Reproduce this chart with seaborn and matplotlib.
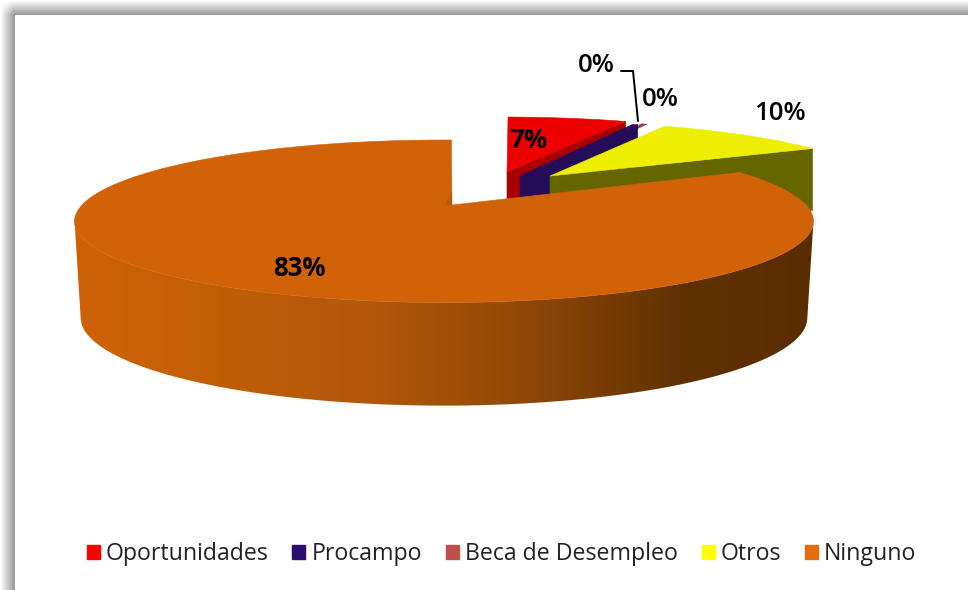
import matplotlib
matplotlib.use('Agg')
import matplotlib.pyplot as plt
from matplotlib.colors import LinearSegmentedColormap
from matplotlib.patches import Patch, Polygon
import numpy as np
import seaborn as sns

# Chart data
categories = ['Oportunidades', 'Procampo', 'Beca de Desempleo', 'Otros', 'Ninguno']
percent = [6.6, 0.3, 0.3, 9.9, 82.9]
legend_colors = ['#FF0000', '#2A0F6E', '#C0504D', '#FFFF00', '#E46C0A']
top_colors = ['#EE0000', '#240C58', '#96404C', '#EEEE00', '#D26208']
wall_colors = ['#A80000', '#240C58', '#6A3048', '#666600', '#D26208']

# Pie geometry in pixels: rim centre, apex, half axes of the rim
rim_x = [501, 508, 512, 530, 444]
rim_y = [172, 175, 174, 176, 205]
apex_x = [507, 520, 538, 550, 452]
apex_y = [172, 176, 176, 176, 205]
half_w = [346, 346, 346, 346, 362]
half_h = [66, 66, 66, 66, 78]
start_angle = 1.4
depth = 62
perspective = 0.2

label_x = [528, 660, 596, 780, 299]
label_y = [141, 99, 66, 113, 269]

sns.set_theme(style='white')
plt.rcParams['font.family'] = ['Open Sans', 'DejaVu Sans']

fig = plt.figure(figsize=(9.68, 5.9), dpi=100)
ax = fig.add_axes([0, 0, 1, 1])
ax.axis('off')


def rim_points(i, t0, t1, cy=None, hw=None, hh=None):
    # Walk the rim of slice i between two clockwise angles, far side gets smaller
    t = np.radians(np.linspace(t0, t1, 200))
    u, v = np.sin(t), np.cos(t)
    w = 1 + perspective * v
    x = rim_x[i] + (hw or half_w[i]) * u / w
    y = (cy or rim_y[i]) - (hh or half_h[i]) * v / w
    return np.column_stack([x, y])


# Grey shadow of the picture frame along the top and left edge
xx, yy = np.meshgrid(np.arange(968), np.arange(590))
frame = 1 - 0.4 * np.clip(xx / 14, 0, 1) * np.clip(yy / 14, 0, 1)
frame[(xx > 14) & (yy > 14)] = 1
ax.imshow(frame, cmap='gray', vmin=0, vmax=1, extent=(0, 968, 590, 0), aspect='auto', zorder=0)

edges = start_angle + np.concatenate([[0], np.cumsum(percent)]) * 3.6

# Small slices from back to front: Oportunidades, Beca, Procampo, Otros
for z, i in enumerate([0, 2, 1, 3]):
    rim = rim_points(i, edges[i], edges[i + 1])
    apex = np.array([apex_x[i], apex_y[i]])
    tip = rim[-1]
    side = np.array([apex, tip, tip + [0, depth], apex + [0, depth]])
    if i != 2:
        ax.add_patch(Polygon(side, fc=wall_colors[i], ec=wall_colors[i], lw=0.4, zorder=2 + z))
    ax.add_patch(Polygon(np.vstack([apex, rim]), fc=top_colors[i], ec=top_colors[i], lw=0.4, zorder=2 + z))

# Ninguno: outer wall with the gradient, then the top face
i = 4
wall_top = rim_points(i, 101.5, 258.5)
wall_bottom = rim_points(i, 101.5, 258.5, cy=300, hw=356, hh=84.5)
wall = Polygon(np.vstack([wall_top, wall_bottom[::-1]]), fc='none', ec='none', zorder=7)
ax.add_patch(wall)
wall_cmap = LinearSegmentedColormap.from_list('wall', [
    (0.00, '#CF6208'), (0.14, '#C66006'), (0.41, '#B0570A'),
    (0.58, '#964B08'), (0.83, '#5F3002'), (1.00, '#5A2D00')])
ramp = ax.imshow(np.linspace(1, 0, 256).reshape(1, -1), cmap=wall_cmap, vmin=0, vmax=1,
                 extent=(815, 70, 410, 200), aspect='auto', zorder=7)
ramp.set_clip_path(wall)

rim = rim_points(i, edges[i], edges[i + 1])
apex = np.array([apex_x[i], apex_y[i]])
ax.add_patch(Polygon(np.vstack([apex, rim]), fc=top_colors[i], ec=top_colors[i], lw=0.4, zorder=8))
# little piece of inner wall visible in the notch
ax.add_patch(Polygon([apex, apex + [-7, 0], apex + [0, -15]], fc='#B85A08', ec='none', zorder=9))

# Labels come straight from the values
for i in range(len(percent)):
    ax.text(label_x[i], label_y[i], f'{percent[i]:.0f}%', ha='center', va='center',
            fontsize=18.5, color='black', fontweight='bold' if i in (0, 4) else 'semibold', zorder=12)

# Leader line of the Procampo label
ax.plot([621, 633, 638], [71, 71, 121], color='black', lw=1.4, zorder=11)

handles = [Patch(fc=c, ec=c) for c in legend_colors]
ax.legend(handles, categories, ncol=5, loc='center', bbox_to_anchor=(501.5, 554),
          bbox_transform=ax.transData, frameon=False, fontsize=16.7, handlelength=0.56,
          handleheight=0.56, handletextpad=0.26, columnspacing=1.03, borderpad=0, labelcolor='#222222')

ax.set_xlim(0, 968)
ax.set_ylim(590, 0)

fig.savefig('out.png', dpi=100)
